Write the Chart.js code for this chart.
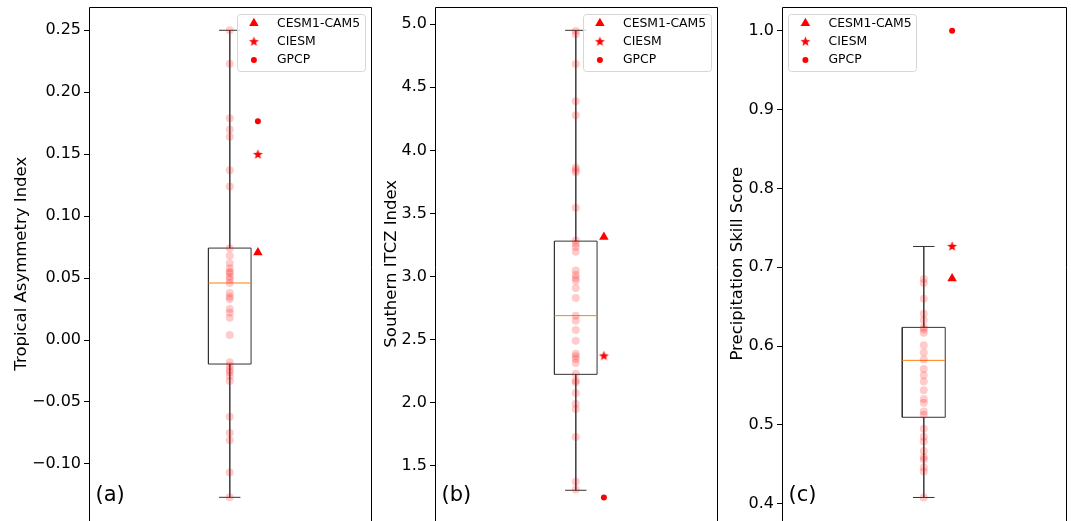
<!DOCTYPE html>
<html>
<head>
<meta charset="utf-8">
<script src="https://cdn.jsdelivr.net/npm/chart.js@4.4.0/dist/chart.umd.min.js"></script>
<style>
    html, body {
        margin: 0;
        padding: 0;
        background: #fff;
        width: 1071px;
        height: 521px;
        overflow: hidden;
    }

    canvas {
        position: absolute;
        top: 0;
    }
</style>
</head>
<body>
<!-- canvases run a few px below the window so the plot frame is cut at the bottom like the original -->
<canvas id="chartA" width="376" height="526" style="left:0px"></canvas>
<canvas id="chartB" width="346" height="526" style="left:376px"></canvas>
<canvas id="chartC" width="349" height="526" style="left:722px"></canvas>
<script>
// legend entries, same order in every panel
const highlightLabels = ["CESM1-CAM5", "CIESM", "GPCP"];

// (a) tropical asymmetry index
const asymEnsemble = [
    0.250, 0.223, 0.179, 0.170, 0.164, 0.137, 0.124,
    0.074, 0.068, 0.062, 0.058, 0.055, 0.054, 0.051, 0.049, 0.046,
    0.038, 0.035, 0.033, 0.025, 0.022, 0.018, 0.004,
    -0.018, -0.021, -0.024, -0.026, -0.029, -0.033,
    -0.062, -0.075, -0.081, -0.107, -0.127
];
const asymBox = [-0.127, -0.0194, 0.046, 0.0742, 0.25]; // min, q1, median, q3, max
const asymHighlight = [0.0706, 0.1497, 0.1766];
const asymRange = [-0.1457, 0.2688];
const asymTicks = [-0.10, -0.05, 0.00, 0.05, 0.10, 0.15, 0.20, 0.25];
const asymTickLabels = ["\u22120.10", "\u22120.05", "0.00", "0.05", "0.10", "0.15", "0.20", "0.25"];

// (b) southern ITCZ index
const itczEnsemble = [
    4.947, 4.921, 4.685, 4.390, 4.279, 3.864, 3.845, 3.827, 3.544,
    3.285, 3.259, 3.233, 3.196, 3.048, 3.014, 2.987, 2.966, 2.908, 2.829,
    2.688, 2.649, 2.575, 2.490, 2.387, 2.366, 2.346, 2.314, 2.229,
    2.173, 2.160, 2.076, 1.991, 1.949, 1.727, 1.371, 1.310
];
const itczBox = [1.304, 2.2235, 2.689, 3.280, 4.952];
const itczHighlight = [3.312, 2.369, 1.246];
const itczRange = [1.0642, 5.137];
const itczTicks = [1.5, 2.0, 2.5, 3.0, 3.5, 4.0, 4.5, 5.0];
const itczTickLabels = ["1.5", "2.0", "2.5", "3.0", "3.5", "4.0", "4.5", "5.0"];

// (c) precipitation skill score
const pssEnsemble = [
    0.685, 0.680, 0.660, 0.641, 0.633, 0.624, 0.621, 0.617,
    0.601, 0.592, 0.583, 0.571, 0.563, 0.555, 0.544, 0.533, 0.528,
    0.517, 0.513, 0.495, 0.485, 0.479, 0.467, 0.459, 0.456, 0.446,
    0.441, 0.408
];
const pssBox = [0.408, 0.5097, 0.5819, 0.6237, 0.7263];
const pssHighlight = [0.6858, 0.7263, 1.0];
const pssRange = [0.3788, 1.030];
const pssTicks = [0.4, 0.5, 0.6, 0.7, 0.8, 0.9, 1.0];
const pssTickLabels = ["0.4", "0.5", "0.6", "0.7", "0.8", "0.9", "1.0"];

const FONT = "'DejaVu Sans', 'Liberation Sans', sans-serif";
const RED = "#ff0000";
const PINK = "rgba(255, 0, 0, 0.2)";

const BOX_HALF = 0.25;
const CAP_HALF = 0.125;
const MARK_X = 0.33;

function makeStar(r) {
    const c = document.createElement("canvas");
    const size = Math.ceil(r * 2 + 2);
    c.width = size;
    c.height = size;
    const g = c.getContext("2d");
    g.fillStyle = RED;
    g.beginPath();
    for (let i = 0; i < 10; i++) {
        const a = -Math.PI / 2 + i * Math.PI / 5;
        const rr = i % 2 ? r * 0.42 : r;
        g.lineTo(size / 2 + rr * Math.cos(a), size / 2 + rr * Math.sin(a));
    }
    g.closePath();
    g.fill();
    return c;
}

const starImg = makeStar(5.2);

const markerStyles = [
    { pointStyle: "triangle", pointRadius: 5.5 },
    { pointStyle: starImg, pointRadius: 5 },
    { pointStyle: "circle", pointRadius: 3 }
];

const framePlugin = {
    id: "frame",
    afterDatasetsDraw(chart) {
        const { ctx, chartArea } = chart;
        const l = Math.round(chartArea.left) + 0.5;
        const r = Math.round(chartArea.right) + 0.5;
        const t = Math.round(chartArea.top) + 0.5;
        ctx.save();
        ctx.strokeStyle = "#000";
        ctx.lineWidth = 1;
        ctx.beginPath();
        ctx.moveTo(l, chart.height + 2);
        ctx.lineTo(l, t);
        ctx.lineTo(r, t);
        ctx.lineTo(r, chart.height + 2);
        ctx.stroke();
        ctx.restore();
    }
};

const legendPlugin = {
    id: "boxLegend",
    afterDraw(chart, args, opts) {
        const { ctx, chartArea } = chart;
        const w = 128;
        const h = 57;
        const x0 = opts.side === "left" ? chartArea.left + 6 : chartArea.right - 6 - w;
        const y0 = chartArea.top + 7;
        ctx.save();
        ctx.fillStyle = "rgba(255,255,255,0.8)";
        ctx.strokeStyle = "#d6d6d6";
        ctx.lineWidth = 1;
        ctx.beginPath();
        ctx.roundRect(Math.round(x0) + 0.5, Math.round(y0) + 0.5, w, h, 3);
        ctx.fill();
        ctx.stroke();

        const entries = chart.data.datasets.filter(d => d.inLegend);
        ctx.font = "12.4px " + FONT;
        ctx.textBaseline = "middle";
        entries.forEach((d, i) => {
            const yy = y0 + 9.3 + i * 18.35;
            ctx.fillStyle = RED;
            ctx.strokeStyle = RED;
            Chart.helpers.drawPoint(ctx, {
                pointStyle: d.pointStyle,
                radius: d.pointRadius,
                rotation: 0,
                borderWidth: 0
            }, x0 + 17.4, yy);
            ctx.fillStyle = "#000";
            ctx.fillText(d.label, x0 + 40.5, yy);
        });
        ctx.restore();
    }
};

const tagPlugin = {
    id: "panelTag",
    afterDraw(chart, args, opts) {
        const { ctx, chartArea } = chart;
        ctx.save();
        ctx.font = "21px " + FONT;
        ctx.fillStyle = "#000";
        ctx.textBaseline = "middle";
        ctx.fillText(opts.text, chartArea.left + 6.5, 496);
        ctx.restore();
    }
};

function createBoxChart({
    canvasId,
    tag,
    title,
    ensemble,
    box,
    highlight,
    range,
    ticks,
    tickLabels,
    padLeft,
    axisWidth,
    padRight,
    legendSide
}) {
    const [lo, q1, med, q3, hi] = box;

    const lineSet = (data, color) => ({
        data: data,
        showLine: true,
        spanGaps: false,
        borderColor: color,
        borderWidth: 1,
        pointRadius: 0,
        fill: false
    });

    const markerSets = highlight.map((v, i) => ({
        label: highlightLabels[i],
        inLegend: true,
        data: [{ x: MARK_X, y: v }],
        pointStyle: markerStyles[i].pointStyle,
        pointRadius: markerStyles[i].pointRadius,
        backgroundColor: RED,
        borderWidth: 0,
        clip: false
    }));

    const datasets = [
        ...markerSets,
        {
            data: ensemble.map(v => ({ x: 0, y: v })),
            pointRadius: 4,
            backgroundColor: PINK,
            borderWidth: 0
        },
        lineSet([
            { x: -BOX_HALF, y: med },
            { x: BOX_HALF, y: med }
        ], "#ff7f0e"),
        lineSet([
            { x: -BOX_HALF, y: q1 },
            { x: BOX_HALF, y: q1 },
            { x: BOX_HALF, y: q3 },
            { x: -BOX_HALF, y: q3 },
            { x: -BOX_HALF, y: q1 }
        ], "#333"),
        lineSet([
            { x: -CAP_HALF, y: hi },
            { x: CAP_HALF, y: hi },
            { x: 0, y: null },
            { x: -CAP_HALF, y: lo },
            { x: CAP_HALF, y: lo }
        ], "#333"),
        lineSet([
            { x: 0, y: hi },
            { x: 0, y: q3 },
            { x: 0, y: null },
            { x: 0, y: q1 },
            { x: 0, y: lo }
        ], "#444")
    ];

    return new Chart(document.getElementById(canvasId), {
        type: "scatter",
        data: { datasets },
        options: {
            responsive: false,
            animation: false,
            events: [],
            layout: {
                padding: { left: padLeft, right: padRight, top: 7, bottom: 0 }
            },
            plugins: {
                legend: { display: false },
                tooltip: { enabled: false },
                boxLegend: { side: legendSide },
                panelTag: { text: tag }
            },
            scales: {
                x: {
                    type: "linear",
                    min: -1.65,
                    max: 1.65,
                    display: false
                },
                y: {
                    min: range[0],
                    max: range[1],
                    afterBuildTicks: s => {
                        s.ticks = ticks.map(v => ({ value: v }));
                    },
                    afterFit: s => {
                        s.width = axisWidth;
                        s.paddingTop = 0;
                        s.paddingBottom = 0;
                    },
                    ticks: {
                        autoSkip: false,
                        padding: 3,
                        color: "#000",
                        font: { family: FONT, size: 16 },
                        callback: (v, i) => tickLabels[i]
                    },
                    grid: {
                        drawOnChartArea: false,
                        tickLength: 5,
                        tickWidth: 1,
                        color: "#000"
                    },
                    border: { display: false },
                    title: {
                        display: true,
                        text: title,
                        color: "#000",
                        padding: { top: 4, bottom: 4 },
                        font: { family: FONT, size: 16.5 }
                    }
                }
            }
        },
        plugins: [framePlugin, legendPlugin, tagPlugin]
    });
}

createBoxChart({
    canvasId: "chartA",
    tag: "(a)",
    title: "Tropical Asymmetry Index",
    ensemble: asymEnsemble,
    box: asymBox,
    highlight: asymHighlight,
    range: asymRange,
    ticks: asymTicks,
    tickLabels: asymTickLabels,
    padLeft: 8,
    axisWidth: 81,
    padRight: 3,
    legendSide: "right"
});

createBoxChart({
    canvasId: "chartB",
    tag: "(b)",
    title: "Southern ITCZ Index",
    ensemble: itczEnsemble,
    box: itczBox,
    highlight: itczHighlight,
    range: itczRange,
    ticks: itczTicks,
    tickLabels: itczTickLabels,
    padLeft: 2,
    axisWidth: 57,
    padRight: 3,
    legendSide: "right"
});

createBoxChart({
    canvasId: "chartC",
    tag: "(c)",
    title: "Precipitation Skill Score",
    ensemble: pssEnsemble,
    box: pssBox,
    highlight: pssHighlight,
    range: pssRange,
    ticks: pssTicks,
    tickLabels: pssTickLabels,
    padLeft: 2,
    axisWidth: 58,
    padRight: 5,
    legendSide: "left"
});
</script>
</body>
</html>
